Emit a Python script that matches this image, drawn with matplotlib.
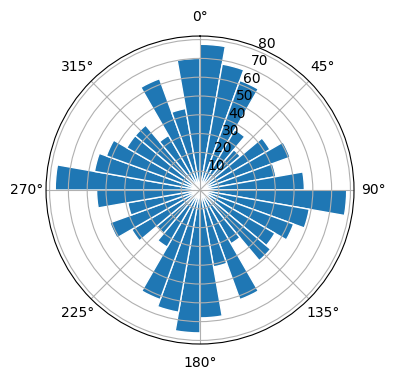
import numpy as np
import matplotlib
matplotlib.use("Agg")
import matplotlib.pyplot as plt

# bar start angles (degrees, clockwise from north) and radii
angles_deg = list(range(0, 360, 10))
radii = [77.5, 68, 62, 37, 28, 43, 51, 41, 55.5,
         78, 59, 53, 46, 49, 33, 62, 41.5, 68,
         76, 66, 62, 35, 30, 42, 51, 39, 55,
         77, 57, 53, 45, 45, 33.5, 63, 44, 70]
bar_width_deg = 10

fig = plt.figure(figsize=(3.96, 3.8), dpi=100)
ax = fig.add_axes([0.1162, 0.0947, 0.7778, 0.8105], projection='polar')
ax.set_theta_zero_location('N')
ax.set_theta_direction(-1)
ax.bar(np.deg2rad(angles_deg), radii, width=np.deg2rad(bar_width_deg),
       align='edge', color='#1f77b4', edgecolor='white', linewidth=1)
fig.savefig('out.png', dpi=100)
